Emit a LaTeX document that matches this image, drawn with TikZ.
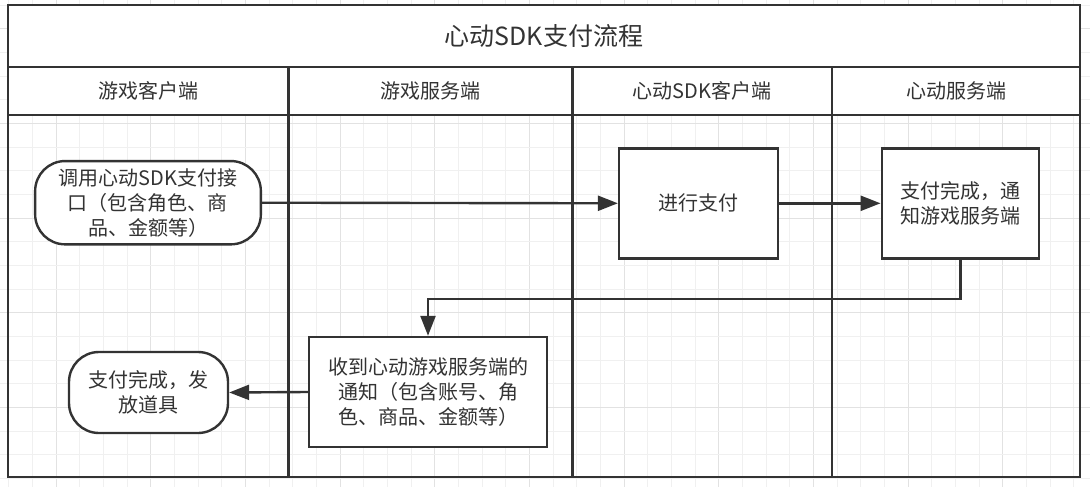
\documentclass[tikz,border=0pt]{standalone}
\usepackage{fontspec}
\setmainfont{Noto Sans CJK SC}
\usetikzlibrary{arrows.meta}
\definecolor{ink}{HTML}{333333}
\definecolor{gridminor}{HTML}{F0F0F0}
\definecolor{gridmajor}{HTML}{E2E2E2}
\tikzset{
  ln/.style={draw=ink, line width=2.4pt},
  txt/.style={text=ink, font=\fontsize{20}{25}\selectfont, align=center, inner sep=0pt},
  stepbox/.style={ln, txt, fill=white, rectangle},
  pill/.style={ln, txt, fill=white, rectangle, rounded corners=30pt},
  flow/.style={ln, -{Triangle[length=20pt,width=15pt]}},
}
\begin{document}
\begin{tikzpicture}[x=1pt,y=-1pt]
\useasboundingbox (0,0) rectangle (1090,487);
\fill[white] (0,0) rectangle (1090,487);
% grid
\foreach \k in {-2,...,43}{
  \pgfmathsetmacro{\gx}{56+23.667*\k}
  \pgfmathtruncatemacro{\mj}{mod(\k+400,4)}
  \ifnum\mj=0
    \draw[gridmajor, line width=1pt] (\gx,0) -- (\gx,487);
  \else
    \draw[gridminor, line width=1pt] (\gx,0) -- (\gx,487);
  \fi
}
\foreach \k in {-1,...,20}{
  \pgfmathsetmacro{\gy}{28.7+23.667*\k}
  \pgfmathtruncatemacro{\mj}{mod(\k+400,4)}
  \ifnum\mj=0
    \draw[gridmajor, line width=1pt] (0,\gy) -- (1090,\gy);
  \else
    \draw[gridminor, line width=1pt] (0,\gy) -- (1090,\gy);
  \fi
}
% pool
\fill[white] (8,5) rectangle (1080,115);
\draw[ln] (8,5) rectangle (1080,477);
\draw[ln] (8,67) -- (1080,67);
\draw[ln] (8,115) -- (1080,115);
\draw[ln] (288.5,67) -- (288.5,477);
\draw[ln] (572.5,67) -- (572.5,477);
\draw[ln] (832,67) -- (832,477);
\node[txt, font=\fontsize{25}{30}\selectfont] (title) at (544,36) {心动SDK支付流程};
\node[txt] (h1) at (148,91) {游戏客户端};
\node[txt] (h2) at (430.5,91) {游戏服务端};
\node[txt] (h3) at (702,91) {心动SDK客户端};
\node[txt] (h4) at (956,91) {心动服务端};
% nodes
\node[pill, minimum width=225.7pt, minimum height=83.3pt] (call) at (148,202.7) {调用心动SDK支付接\\口（包含角色、商\\品、金额等）};
\node[stepbox, minimum width=158.7pt, minimum height=110pt] (pay) at (698.4,203.3) {进行支付};
\node[stepbox, minimum width=157.3pt, minimum height=110pt] (done) at (960.4,203.3) {支付完成，通\\知游戏服务端};
\node[stepbox, minimum width=238pt, minimum height=110pt] (recv) at (428,392) {收到心动游戏服务端的\\通知（包含账号、角\\色、商品、金额等）};
\node[pill, minimum width=159pt, minimum height=81pt] (give) at (148.5,392.5) {支付完成，发\\放道具};
% connectors
\draw[flow] (call.east) -- (pay.west);
\draw[flow] (pay.east) -- (done.west);
\draw[flow] (done.south) -- ++(0,39.4) -| (recv.north);
\draw[flow] (recv.west) -- (give.east);
\end{tikzpicture}
\end{document}
